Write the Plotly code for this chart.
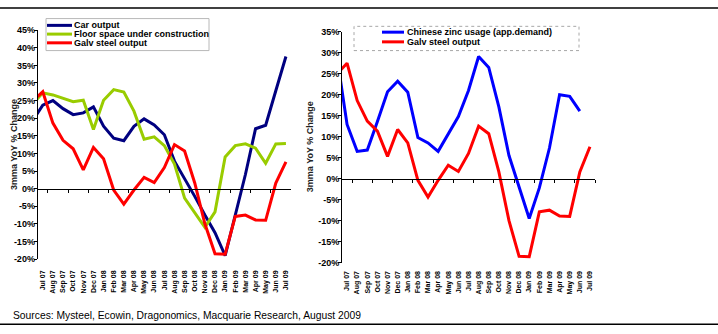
import plotly.graph_objects as go

W, H = 718, 334

# ---- data (3mma YoY % change); first category Jun 07 lies just left of the axis ----
months = ["Jun 07", "Jul 07", "Aug 07", "Sep 07", "Oct 07", "Nov 07", "Dec 07",
          "Jan 08", "Feb 08", "Mar 08", "Apr 08", "May 08", "Jun 08", "Jul 08",
          "Aug 08", "Sep 08", "Oct 08", "Nov 08", "Dec 08", "Jan 09", "Feb 09",
          "Mar 09", "Apr 09", "May 09", "Jun 09", "Jul 09"]
car_output = [19.3, 23.7, 25.0, 22.7, 21.0, 21.5, 23.2, 17.7, 14.3, 13.6, 17.7, 19.8, 18.1,
              15.3, 7.8, 3.0, -2.2, -7.5, -12.5, -19.0, -7.5, 4.0, 17.0, 18.0, 27.8, 37.5]
floor_space = [24.0, 27.2, 26.6, 25.6, 24.7, 25.1, 16.8, 25.1, 28.1, 27.4, 22.0, 14.0, 14.7,
               12.2, 7.0, -2.7, -7.0, -11.0, -6.6, 9.0, 12.2, 12.7, 11.5, 7.2, 12.7, 12.8]
galv_steel = [24.9, 27.5, 18.6, 13.7, 11.3, 5.3, 11.7, 8.5, -0.4, -4.4, -0.4, 3.2, 1.7,
              6.0, 12.5, 10.7, 1.6, -10.0, -18.5, -18.6, -7.9, -7.5, -8.9, -9.0, 1.6, 7.6]
zinc_usage = [29.1, 12.9, 6.5, 6.8, 13.6, 20.7, 23.2, 20.6, 9.8, 8.5, 6.5, 10.5, 14.8,
              21.0, 29.1, 26.5, 17.1, 5.5, -1.8, -9.5, -2.2, 7.3, 20.0, 19.6, 16.1, None]

left_names = ["Car output", "Floor space under construction", "Galv steel output"]
right_names = ["Chinese zinc usage (app.demand)", "Galv steel output"]
left_ticks = list(range(-20, 50, 5))
right_ticks = list(range(-20, 40, 5))
y_title = "3mma YoY % Change"
source = "Sources: Mysteel, Ecowin, Dragonomics, Macquarie Research, August 2009"

NAVY, GREEN, RED, BLUE = "#000080", "#99CC00", "#FF0000", "#0000FF"
FONT = "Arial, 'Liberation Sans', sans-serif"


def px(x):
    return x / W


def py(y):
    return 1 - y / H


# plot areas (pixels)
L_X = (37.7, 291.0)
L_Y = (261.9, 25.9)
R_X = (342.0, 595.0)
R_Y = (265.6, 27.5)

L_RANGE = [-20, 45]
R_RANGE = [-20, 35]
X_RANGE = [0.5, len(months) - 0.5]

l_dom_y = [py(L_Y[0]), py(L_Y[1])]
r_dom_y = [py(R_Y[0]), py(R_Y[1])]
zero_left = l_dom_y[0] + (0 - L_RANGE[0]) / (L_RANGE[1] - L_RANGE[0]) * (l_dom_y[1] - l_dom_y[0])
zero_right = r_dom_y[0] + (0 - R_RANGE[0]) / (R_RANGE[1] - R_RANGE[0]) * (r_dom_y[1] - r_dom_y[0])

fig = go.Figure()
lw = 3
fig.add_trace(go.Scatter(x=months, y=car_output, name=left_names[0], mode="lines",
                         line=dict(color=NAVY, width=lw), xaxis="x", yaxis="y"))
fig.add_trace(go.Scatter(x=months, y=floor_space, name=left_names[1], mode="lines",
                         line=dict(color=GREEN, width=lw), xaxis="x", yaxis="y"))
fig.add_trace(go.Scatter(x=months, y=galv_steel, name=left_names[2], mode="lines",
                         line=dict(color=RED, width=lw), xaxis="x", yaxis="y"))
fig.add_trace(go.Scatter(x=months, y=zinc_usage, name=right_names[0], mode="lines",
                         line=dict(color=BLUE, width=lw), xaxis="x2", yaxis="y2",
                         connectgaps=False))
fig.add_trace(go.Scatter(x=months, y=galv_steel, name=right_names[1], mode="lines",
                         line=dict(color=RED, width=lw), xaxis="x2", yaxis="y2"))

# empty helper traces so that the zero-crossing category axes get drawn
for xa, ya in (("x3", "y"), ("x4", "y2")):
    fig.add_trace(go.Scatter(x=months, y=[None] * len(months), mode="lines", xaxis=xa,
                             yaxis=ya, showlegend=False, hoverinfo="skip"))

xlab = dict(type="category", categoryorder="array", categoryarray=months, range=X_RANGE,
            tickangle=-90, tickfont=dict(family=FONT, size=7, color="black", weight="bold"),
            showline=False, ticks="", showgrid=False, zeroline=False, fixedrange=True)
ylab = dict(showline=True, linecolor="black", linewidth=1, ticks="outside", ticklen=3,
            tickcolor="black", showgrid=False, zeroline=False, tickmode="array",
            ticklabelstandoff=-3,
            tickfont=dict(family=FONT, size=9, color="black", weight="bold"))
xzero = dict(type="category", categoryorder="array", categoryarray=months, range=X_RANGE,
             anchor="free", showline=True, linecolor="black", linewidth=1, ticks="outside",
             tickson="boundaries", ticklen=3, tickcolor="black", showticklabels=False,
             showgrid=False, zeroline=False)

fig.update_layout(
    width=W, height=H, margin=dict(l=0, r=0, t=0, b=0),
    paper_bgcolor="white", plot_bgcolor="rgba(0,0,0,0)", showlegend=False,
    xaxis=dict(domain=[px(L_X[0]), px(L_X[1])], anchor="y", ticklabelstandoff=9, **xlab),
    yaxis=dict(domain=l_dom_y, anchor="x", range=L_RANGE, tickvals=left_ticks,
               ticktext=[f"{v}%" for v in left_ticks], **ylab),
    xaxis2=dict(domain=[px(R_X[0]), px(R_X[1])], anchor="y2", ticklabelstandoff=6, **xlab),
    yaxis2=dict(domain=r_dom_y, anchor="x2", range=R_RANGE, tickvals=right_ticks,
                ticktext=[f"{v}%" for v in right_ticks], **ylab),
    xaxis3=dict(overlaying="x", domain=[px(L_X[0]), px(L_X[1])], position=zero_left, **xzero),
    xaxis4=dict(overlaying="x2", domain=[px(R_X[0]), px(R_X[1])], position=zero_right, **xzero),
)

shapes = []
annotations = []

# frame lines
for yy in (3, 329):
    shapes.append(dict(type="line", xref="paper", yref="paper", x0=0, x1=1, y0=py(yy), y1=py(yy),
                       line=dict(color="black", width=1.5)))

# left legend
shapes.append(dict(type="rect", xref="paper", yref="paper", x0=px(46), x1=px(209),
                   y0=py(47), y1=py(14), line=dict(color="#B8B8B8", width=1), fillcolor="white",
                   layer="above"))
for name, col, yy in zip(left_names, [NAVY, GREEN, RED], [21, 30, 39]):
    shapes.append(dict(type="line", xref="paper", yref="paper", x0=px(47), x1=px(72),
                       y0=py(yy), y1=py(yy), line=dict(color=col, width=3), layer="above"))
    annotations.append(dict(text=name, xref="paper", yref="paper", x=px(71.5), y=py(yy),
                            xanchor="left", yanchor="middle", showarrow=False,
                            font=dict(family=FONT, size=9, color="black", weight="bold")))

# right legend
shapes.append(dict(type="rect", xref="paper", yref="paper", x0=px(354), x1=px(579),
                   y0=py(47), y1=py(22), line=dict(color="#A8A8A8", width=1, dash="dot"),
                   fillcolor="white", layer="above"))
for name, col, yy in zip(right_names, [BLUE, RED], [28, 38]):
    shapes.append(dict(type="line", xref="paper", yref="paper", x0=px(382), x1=px(404),
                       y0=py(yy), y1=py(yy), line=dict(color=col, width=3), layer="above"))
    annotations.append(dict(text=name, xref="paper", yref="paper", x=px(404.5), y=py(yy),
                            xanchor="left", yanchor="middle", showarrow=False,
                            font=dict(family=FONT, size=9, color="black", weight="bold")))

# axis titles
annotations.append(dict(text=y_title, xref="paper", yref="paper", x=px(6.5),
                        y=(l_dom_y[0] + l_dom_y[1]) / 2, textangle=-90, showarrow=False,
                        font=dict(family=FONT, size=9, color="#222222", weight="bold")))
annotations.append(dict(text=y_title, xref="paper", yref="paper", x=px(310),
                        y=(r_dom_y[0] + r_dom_y[1]) / 2, textangle=-90, showarrow=False,
                        font=dict(family=FONT, size=9, color="#222222", weight="bold")))

# source line
annotations.append(dict(text=source, xref="paper", yref="paper", x=px(11), y=py(320),
                        xanchor="left", yanchor="middle", showarrow=False,
                        font=dict(family=FONT, size=10.3, color="black")))

fig.update_layout(shapes=shapes, annotations=annotations)
fig.write_html("out.html")
